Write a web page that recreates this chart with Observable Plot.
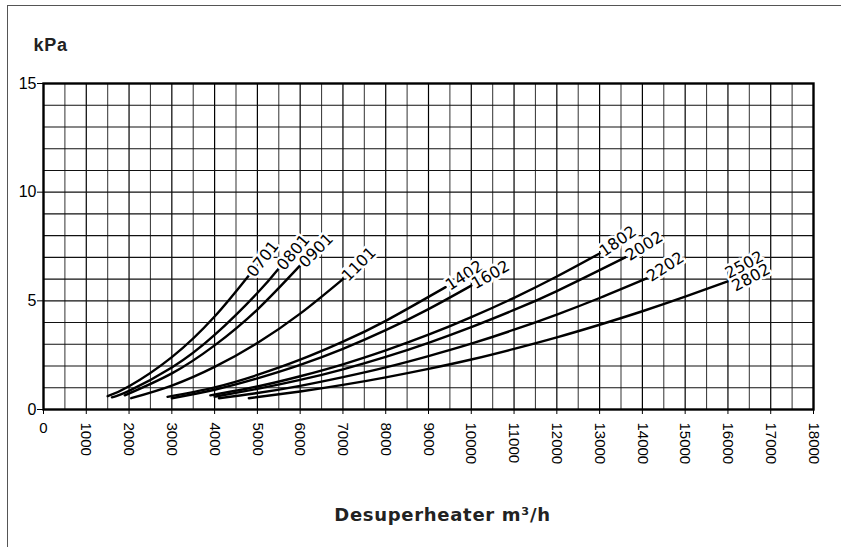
<!DOCTYPE html>
<html>
<head>
<meta charset="utf-8">
<script src="https://cdn.jsdelivr.net/npm/d3@7"></script>
<script src="https://cdn.jsdelivr.net/npm/@observablehq/plot@0.6"></script>
<style>
  html, body { margin: 0; padding: 0; background: white; }
  #wrap { position: relative; width: 841px; height: 547px; overflow: hidden; }
  #border { position: absolute; left: 7px; top: 5px; right: -5px; bottom: -5px;
            border-left: 1.5px solid #555; border-top: 1.5px solid #555; pointer-events: none; }
</style>
</head>
<body>
<div id="wrap"><div id="border"></div></div>
<script>
// ---- data (flow m³/h, pressure drop kPa) ----
const seriesNames = ["0701", "0801", "0901", "1101", "1402", "1602", "1802", "2002", "2202", "2502/2802"];
const labelTexts  = ["0701", "0801", "0901", "1101", "1402", "1602", "1802", "2002", "2202", "2502\n2802"];

const q0701 = [1500, 2000, 3000, 4000, 4800];
const p0701 = [0.61, 1.07, 2.41, 4.28, 6.17];
const q0801 = [1600, 2000, 3000, 4000, 5000, 5500];
const p0801 = [0.56, 0.86, 1.93, 3.43, 5.36, 6.49];
const q0901 = [1900, 3000, 4000, 5000, 6000];
const p0901 = [0.65, 1.66, 2.95, 4.60, 6.63];
const q1101 = [2050, 3000, 4000, 5000, 6000, 7000];
const p1101 = [0.52, 1.10, 1.96, 3.06, 4.41, 6.00];
const q1402 = [2900, 4000, 5000, 6000, 7000, 8000, 9400];
const p1402 = [0.58, 1.02, 1.59, 2.29, 3.12, 4.08, 5.63];
const q1602 = [3000, 4000, 5000, 6000, 7000, 8000, 9000, 10000];
const p1602 = [0.52, 0.91, 1.43, 2.05, 2.79, 3.65, 4.62, 5.70];
const q1802 = [3900, 5000, 6000, 7000, 8000, 9000, 10000, 11000, 12000, 13000];
const p1802 = [0.65, 1.06, 1.53, 2.08, 2.72, 3.44, 4.25, 5.14, 6.12, 7.18];
const q2002 = [4000, 5000, 6000, 7000, 8000, 9000, 10000, 11000, 12000, 13600];
const p2002 = [0.59, 0.95, 1.36, 1.85, 2.42, 3.07, 3.79, 4.58, 5.45, 7.00];
const q2202 = [4100, 5000, 6000, 7000, 8000, 9000, 10000, 11000, 12000, 13000, 14100];
const p2202 = [0.52, 0.76, 1.09, 1.49, 1.94, 2.46, 3.03, 3.67, 4.37, 5.13, 6.03];
const q2502 = [4800, 6000, 7000, 8000, 9000, 10000, 11000, 12000, 13000, 14000, 15000, 16000];
const p2502 = [0.52, 0.83, 1.13, 1.48, 1.87, 2.30, 2.79, 3.32, 3.90, 4.52, 5.19, 5.90];

const yTicks = [0, 5, 10, 15];
const xTicks = [0, 1000, 2000, 3000, 4000, 5000, 6000, 7000, 8000, 9000, 10000, 11000, 12000, 13000, 14000, 15000, 16000, 17000, 18000];
const xTitle = "Desuperheater m³/h";
const yTitle = "kPa";

// ---- style ----
const labelAngles = [-52, -50, -45, -45, -33, -30, -35, -32, -33, -28];

const flows = [q0701, q0801, q0901, q1101, q1402, q1602, q1802, q2002, q2202, q2502];
const drops = [p0701, p0801, p0901, p1101, p1402, p1602, p1802, p2002, p2202, p2502];

const rows = [];
seriesNames.forEach((s, i) => flows[i].forEach((q, j) => rows.push({series: s, q, p: drops[i][j]})));
const ends = seriesNames.map((s, i) => ({
  series: s, text: labelTexts[i], angle: labelAngles[i],
  q: flows[i][flows[i].length - 1], p: drops[i][drops[i].length - 1]
}));

const minorX = d3.range(500, 18000, 1000);
const majorX = d3.range(1000, 18000, 1000);
const gridY = d3.range(1, 15, 1);

const chart = Plot.plot({
  width: 841,
  height: 547,
  marginLeft: 43,
  marginRight: 28,
  marginTop: 83,
  marginBottom: 138,
  style: {fontFamily: "'Liberation Sans', Arial, sans-serif", fontSize: "15px", background: "transparent"},
  x: {domain: [0, 18000]},
  y: {domain: [0, 15]},
  marks: [
    Plot.gridX(minorX, {stroke: "#444", strokeOpacity: 1, strokeWidth: 1.1}),
    Plot.gridX(majorX, {stroke: "#000", strokeOpacity: 1, strokeWidth: 1.2}),
    Plot.gridY(gridY, {stroke: "#111", strokeOpacity: 1, strokeWidth: 1.1}),
    Plot.axisY({ticks: yTicks, tickSize: 6, tickPadding: 1, label: null, fontSize: 16, tickFormat: d => String(d)}),
    Plot.axisX({ticks: xTicks.filter(d => d !== 0), tickRotate: 90, tickSize: 5, tickPadding: 8, label: null, fontSize: 15, tickFormat: d => String(d)}),
    Plot.axisX({ticks: [0], tickSize: 5, tickPadding: 8, label: null, fontSize: 15, tickFormat: d => String(d)}),
    Plot.frame({stroke: "#000", strokeWidth: 2.4}),
    Plot.line(rows, {x: "q", y: "p", z: "series", curve: "natural", stroke: "#000", strokeWidth: 2.4}),
    Plot.text(ends, {x: "q", y: "p", text: "text", rotate: "angle", textAnchor: "start", lineAnchor: "middle",
      dx: 2, fontFamily: "'DejaVu Sans', sans-serif", fontSize: 16, fill: "#000",
      stroke: "white", strokeWidth: 5, lineHeight: 0.9}),
    Plot.text([yTitle], {frameAnchor: "top-left", text: d => d, textAnchor: "start", lineAnchor: "middle",
      dx: -10, dy: -38, fontWeight: "bold", fontSize: 18, fill: "#222"}),
    Plot.text([xTitle], {frameAnchor: "bottom", text: d => d, textAnchor: "middle", lineAnchor: "middle",
      dx: 14, dy: 106, fontWeight: "bold", fontSize: 18, fill: "#222", fontFamily: "'DejaVu Sans', sans-serif"})
  ]
});

d3.select(chart).selectAll("text").filter(function() { return this.textContent === xTitle; })
  .attr("letter-spacing", "0.7px");
d3.select(chart).selectAll("text").filter(function() { return this.textContent === yTitle; })
  .attr("letter-spacing", "0.8px");

document.getElementById("wrap").prepend(chart);
chart.style.position = "absolute";
chart.style.left = "0";
chart.style.top = "0";
</script>
</body>
</html>
